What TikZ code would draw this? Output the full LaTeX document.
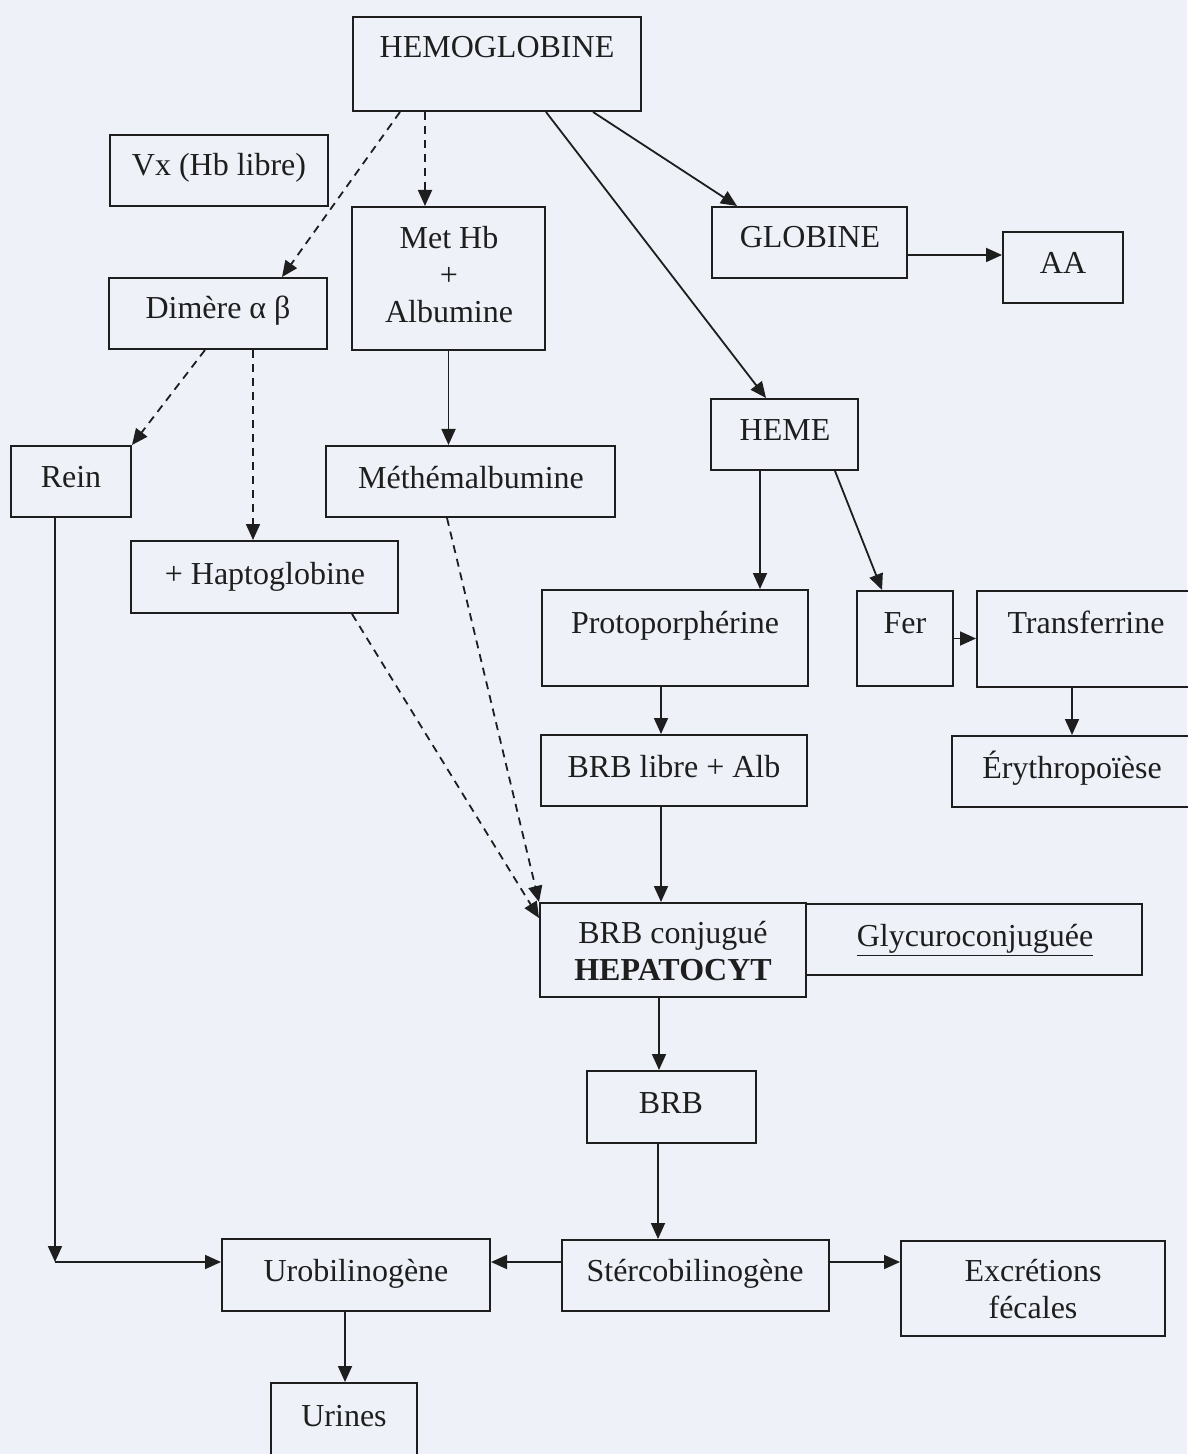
\documentclass[tikz,border=0pt]{standalone}
\usepackage{fontspec}
\setmainfont{Liberation Serif}
\usetikzlibrary{arrows.meta,calc}
\definecolor{bgc}{RGB}{238,242,248}
\definecolor{ink}{RGB}{30,30,30}
\tikzset{
  box/.style={draw=ink, line width=1pt, rectangle, inner sep=0pt},
  txt/.style={text=ink, font=\fontsize{16}{18.5}\selectfont, inner sep=0pt, anchor=base},
  mtxt/.style={text=ink, font=\fontsize{16}{18.5}\selectfont, inner sep=0pt, anchor=center, align=center},
  arr/.style={draw=ink, line width=0.9pt, -{Triangle[length=8pt,width=7pt]}},
  darr/.style={arr, dash pattern=on 4pt off 3pt},
}
\newcommand\bx[5]{\node[box, minimum width={(#4-#2)*0.5pt}, minimum height={(#5-#3)*0.5pt}] (#1) at ({(#2+#4)/2},{(#3+#5)/2}) {};}
\begin{document}
\begin{tikzpicture}[x=0.5pt,y=-0.5pt]
\fill[bgc] (0,0) rectangle (1187,1454);
\useasboundingbox (0,0) rectangle (1187,1454);
% boxes
\bx{hb}{353}{17}{641}{111}
\bx{vx}{110}{135}{328}{206}
\bx{met}{352}{207}{545}{350}
\bx{dim}{109}{278}{327}{349}
\bx{glo}{712}{207}{907}{278}
\bx{aa}{1003}{232}{1123}{303}
\bx{heme}{711}{399}{858}{470}
\bx{rein}{11}{446}{131}{517}
\bx{meth}{326}{446}{615}{517}
\bx{hap}{131}{541}{398}{613}
\bx{proto}{542}{590}{808}{686}
\bx{fer}{857}{591}{953}{686}
\bx{trans}{977}{591}{1195}{687}
\bx{brbl}{541}{735}{807}{806}
\bx{ery}{952}{736}{1195}{807}
\bx{conj}{540}{903}{806}{997}
\bx{gly}{806}{904}{1142}{975}
\bx{brb}{587}{1071}{756}{1143}
\bx{uro}{222}{1239}{490}{1311}
\bx{ster}{562}{1240}{829}{1311}
\bx{exc}{901}{1241}{1165}{1336}
\bx{uri}{271}{1383}{417}{1465}
% texts
\node[txt] (thb) at (497,58) {HEMOGLOBINE};
\node[txt] (tvx) at (219,176) {Vx (Hb libre)};
\node[mtxt] (tmet) at (449,275) {Met Hb\\+\\Albumine};
\node[txt] (tdim) at (218,319) {Dimère α β};
\node[txt] (tglo) at (810,248) {GLOBINE};
\node[txt] (taa) at (1063,274) {AA};
\node[txt] (theme) at (785,441) {HEME};
\node[txt] (trein) at (71,487) {Rein};
\node[txt] (tmeth) at (471,488) {Méthémalbumine};
\node[txt] (thap) at (265,584) {+ Haptoglobine};
\node[txt] (tproto) at (675,633) {Protoporphérine};
\node[txt] (tfer) at (905,633) {Fer};
\node[txt] (ttrans) at (1086,633) {Transferrine};
\node[txt] (tbrbl) at (674,777) {BRB libre + Alb};
\node[txt] (tery) at (1072,778) {Érythropoïèse};
\node[mtxt] (tconj) at (673,951) {BRB conjugué\\\textbf{HEPATOCYT}};
\node[txt] (tgly) at (975,946) {\underline{Glycuroconjuguée}};
\node[txt] (tbrb) at (671,1113) {BRB};
\node[txt] (turo) at (356,1281) {Urobilinogène};
\node[txt] (tster) at (695,1281) {Stércobilinogène};
\node[mtxt] (texc) at (1033,1289) {Excrétions\\fécales};
\node[txt] (turi) at (344,1426) {Urines};
% connectors
\draw[darr] ($(hb.south)+(-97,0)$) -- ($(dim.north)+(64,0)$);
\draw[darr] ($(hb.south)+(-72,0)$) -- ($(met.north)+(-23.5,0)$);
\draw[arr] ($(hb.south)+(96,0)$) -- ($(glo.north)+(-72.5,0)$);
\draw[arr] ($(hb.south)+(49,0)$) -- ($(heme.north)+(-18.5,0)$);
\draw[arr] ($(glo.east)+(0,12.5)$) -- ($(aa.west)+(0,-12.5)$);
\draw[darr] ($(dim.south)+(-13,0)$) -- (rein.north east);
\draw[darr] ($(dim.south)+(35,0)$) -- ($(hap.north)+(-11.5,0)$);
\draw[arr] (met.south) -- ($(meth.north)+(-22,0)$);
\coordinate (corner) at (55,1262);
\draw[arr] ($(rein.south)+(-16,0)$) -- (corner);
\draw[arr] (corner) -- ($(uro.west)+(0,-13)$);
\draw[darr] ($(hap.south)+(87.5,0)$) -- ($(conj.west)+(0,-32)$);
\draw[darr] ($(meth.south)+(-23.5,0)$) -- (conj.north west);
\draw[arr] ($(heme.south)+(-24.5,0)$) -- ($(proto.north)+(85,0)$);
\draw[arr] ($(heme.south)+(50.5,0)$) -- ($(fer.north)+(-23,0)$);
\draw[arr] (fer.east) -- (trans.west |- fer.east);
\draw[arr] ($(trans.south)+(-14,0)$) -- ($(ery.north)+(-1.5,0)$);
\draw[arr] ($(proto.south)+(-14,0)$) -- ($(brbl.north)+(-13,0)$);
\draw[arr] ($(brbl.south)+(-13,0)$) -- ($(conj.north)+(-12,0)$);
\draw[arr] ($(conj.south)+(-14,0)$) -- ($(brb.north)+(-12.5,0)$);
\draw[arr] ($(brb.south)+(-13.5,0)$) -- ($(ster.north)+(-37.5,0)$);
\draw[arr] ($(ster.west)+(0,-13.5)$) -- ($(uro.east)+(0,-13)$);
\draw[arr] ($(ster.east)+(0,-13.5)$) -- ($(exc.west)+(0,-26.5)$);
\draw[arr] ($(uro.south)+(-11,0)$) -- ($(uri.north)+(1,0)$);
\end{tikzpicture}
\end{document}
